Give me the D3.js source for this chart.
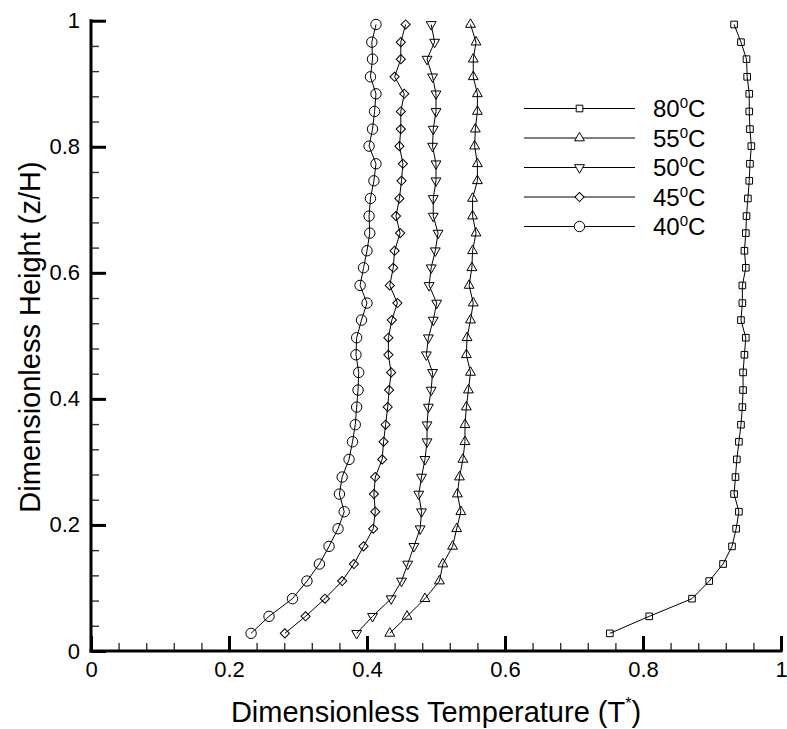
<!DOCTYPE html>
<meta charset="utf-8">
<script src="https://d3js.org/d3.v7.min.js"></script>
<style>
  body { margin: 0; background: #fff; }
  text { font-family: Arial, "Liberation Sans", sans-serif; fill: #000; }
</style>
<div id="my_dataviz"></div>
<script>
// heights z/H, bottom to top
var heights = [0.028, 0.055, 0.083, 0.111, 0.138, 0.166, 0.194, 0.221, 0.249, 0.276, 0.304, 0.332,
               0.359, 0.387, 0.414, 0.442, 0.470, 0.497, 0.525, 0.552, 0.580, 0.608, 0.635, 0.663,
               0.690, 0.718, 0.746, 0.773, 0.801, 0.828, 0.856, 0.884, 0.911, 0.939, 0.966, 0.994];

var t80 = [0.752, 0.809, 0.871, 0.896, 0.916, 0.929, 0.935, 0.939, 0.932, 0.934, 0.936, 0.939,
           0.942, 0.944, 0.945, 0.945, 0.947, 0.949, 0.942, 0.944, 0.944, 0.949, 0.947, 0.949,
           0.950, 0.952, 0.954, 0.955, 0.957, 0.955, 0.954, 0.954, 0.951, 0.950, 0.942, 0.932];
var t55 = [0.433, 0.458, 0.484, 0.505, 0.510, 0.524, 0.530, 0.536, 0.531, 0.534, 0.539, 0.542,
           0.542, 0.544, 0.547, 0.550, 0.544, 0.545, 0.550, 0.554, 0.548, 0.552, 0.553, 0.558,
           0.553, 0.553, 0.560, 0.560, 0.556, 0.557, 0.560, 0.560, 0.554, 0.554, 0.558, 0.550];
var t50 = [0.385, 0.408, 0.435, 0.450, 0.459, 0.468, 0.477, 0.479, 0.475, 0.479, 0.484, 0.487,
           0.487, 0.489, 0.493, 0.495, 0.486, 0.489, 0.496, 0.501, 0.490, 0.493, 0.499, 0.503,
           0.496, 0.496, 0.500, 0.500, 0.495, 0.496, 0.500, 0.500, 0.495, 0.487, 0.498, 0.493];
var t45 = [0.281, 0.311, 0.339, 0.364, 0.381, 0.395, 0.409, 0.412, 0.410, 0.412, 0.422, 0.424,
           0.427, 0.430, 0.432, 0.435, 0.431, 0.431, 0.436, 0.444, 0.433, 0.438, 0.440, 0.448,
           0.442, 0.447, 0.450, 0.452, 0.447, 0.449, 0.449, 0.454, 0.440, 0.449, 0.449, 0.456];
var t40 = [0.232, 0.258, 0.292, 0.313, 0.331, 0.345, 0.358, 0.367, 0.360, 0.364, 0.374, 0.379,
           0.383, 0.385, 0.387, 0.388, 0.384, 0.385, 0.392, 0.400, 0.390, 0.395, 0.400, 0.404,
           0.403, 0.405, 0.410, 0.413, 0.403, 0.408, 0.411, 0.413, 0.405, 0.408, 0.407, 0.413];

var seriesNames = ["80", "55", "50", "45", "40"];
var seriesValues = [t80, t55, t50, t45, t40];
var seriesMarkers = ["square", "triangle", "triangleDown", "diamond", "circle"];

var majorTicks = [0, 0.2, 0.4, 0.6, 0.8, 1];
var tickLabels = ["0", "0.2", "0.4", "0.6", "0.8", "1"];
var minorTicks = [0.04, 0.08, 0.12, 0.16, 0.24, 0.28, 0.32, 0.36, 0.44, 0.48, 0.52, 0.56,
                  0.64, 0.68, 0.72, 0.76, 0.84, 0.88, 0.92, 0.96];

var W = 787, H = 729;
var svg = d3.select("#my_dataviz").append("svg")
    .attr("width", W).attr("height", H);

var x = d3.scaleLinear().domain([0, 1]).range([91, 781]);
var y = d3.scaleLinear().domain([0, 1]).range([651, 20.7]);

// marker shapes
function marker(kind) {
  if (kind === "circle") return d3.symbol().type(d3.symbolCircle).size(85)();
  if (kind === "square") return d3.symbol().type(d3.symbolSquare).size(44)();
  if (kind === "triangle") return d3.symbol().type(d3.symbolTriangle).size(42)();
  if (kind === "triangleDown") return d3.symbol().type(d3.symbolTriangle).size(42)();
  if (kind === "diamond") return d3.symbol().type(d3.symbolSquare).size(42)();
}
function markerRot(kind) {
  if (kind === "triangleDown") return " rotate(180)";
  if (kind === "diamond") return " rotate(45)";
  return "";
}

// minor ticks
var fmt = function(d) { return tickLabels[majorTicks.indexOf(d)]; };
svg.append("g")
  .attr("transform", "translate(0," + y(0) + ")")
  .call(d3.axisBottom(x).tickValues(minorTicks).tickSize(-8).tickFormat(""))
  .call(function(g) { g.select(".domain").remove(); g.selectAll("line").attr("stroke", "#333").attr("stroke-width", 1.4); });
svg.append("g")
  .attr("transform", "translate(" + x(0) + ",0)")
  .call(d3.axisLeft(y).tickValues(minorTicks).tickSize(-8).tickFormat(""))
  .call(function(g) { g.select(".domain").remove(); g.selectAll("line").attr("stroke", "#333").attr("stroke-width", 1.4); });

// major ticks + labels
svg.append("g")
  .attr("transform", "translate(0," + y(0) + ")")
  .call(d3.axisBottom(x).tickValues(majorTicks).tickSize(-15).tickPadding(10).tickFormat(fmt))
  .call(function(g) {
    g.select(".domain").remove();
    g.selectAll("line").attr("stroke", "#000").attr("stroke-width", 3);
    g.selectAll("text").attr("font-size", 22).attr("font-family", "Arial, Liberation Sans, sans-serif").attr("fill", "#000");
  });
svg.append("g")
  .attr("transform", "translate(" + x(0) + ",0)")
  .call(d3.axisLeft(y).tickValues(majorTicks).tickSize(-15).tickPadding(11).tickFormat(fmt))
  .call(function(g) {
    g.select(".domain").remove();
    g.selectAll("line").attr("stroke", "#000").attr("stroke-width", 3);
    g.selectAll("text").attr("font-size", 22).attr("font-family", "Arial, Liberation Sans, sans-serif").attr("fill", "#000");
  });

// axis lines
svg.append("line").attr("x1", x(0)).attr("x2", x(0)).attr("y1", y(0) + 1.5).attr("y2", y(1) - 1.5)
  .attr("stroke", "#000").attr("stroke-width", 3);
svg.append("line").attr("x1", x(0) - 1.5).attr("x2", x(1) + 1.5).attr("y1", y(0)).attr("y2", y(0))
  .attr("stroke", "#000").attr("stroke-width", 3);

// series
var line = d3.line().x(function(d) { return x(d[0]); }).y(function(d) { return y(d[1]); });
seriesValues.forEach(function(vals, i) {
  var pts = vals.map(function(v, j) { return [v, heights[j]]; });
  var g = svg.append("g");
  g.append("path").attr("d", line(pts)).attr("fill", "none").attr("stroke", "#000").attr("stroke-width", 1);
  g.selectAll("path.m").data(pts).enter().append("path")
    .attr("class", "m")
    .attr("d", marker(seriesMarkers[i]))
    .attr("transform", function(d) { return "translate(" + x(d[0]) + "," + y(d[1]) + ")" + markerRot(seriesMarkers[i]); })
    .attr("fill", "none").attr("stroke", "#000").attr("stroke-width", 1);
});

// legend
var legend = svg.append("g");
seriesNames.forEach(function(name, i) {
  var ly = 108.5 + i * 29.5;
  legend.append("line").attr("x1", 524).attr("x2", 635).attr("y1", ly).attr("y2", ly)
    .attr("stroke", "#000").attr("stroke-width", 1);
  legend.append("path").attr("d", marker(seriesMarkers[i]))
    .attr("transform", "translate(579.5," + ly + ")" + markerRot(seriesMarkers[i]))
    .attr("fill", "#fff").attr("stroke", "#000").attr("stroke-width", 1);
  var t = legend.append("text").attr("x", 653).attr("y", ly + 8.5).attr("font-size", 24);
  t.append("tspan").text(name);
  t.append("tspan").attr("font-size", 15).attr("dy", -9).text("0");
  t.append("tspan").attr("dy", 9).text("C");
});

// axis titles
var xt = svg.append("text").attr("x", 436).attr("y", 722).attr("text-anchor", "middle").attr("font-size", 29);
xt.append("tspan").text("Dimensionless Temperature (T");
xt.append("tspan").attr("font-size", 16).attr("dy", -13).text("*");
xt.append("tspan").attr("dy", 13).text(")");

svg.append("text")
  .attr("transform", "translate(40," + 337 + ") rotate(-90)")
  .attr("text-anchor", "middle").attr("font-size", 29)
  .text("Dimensionless Height (z/H)");
</script>
